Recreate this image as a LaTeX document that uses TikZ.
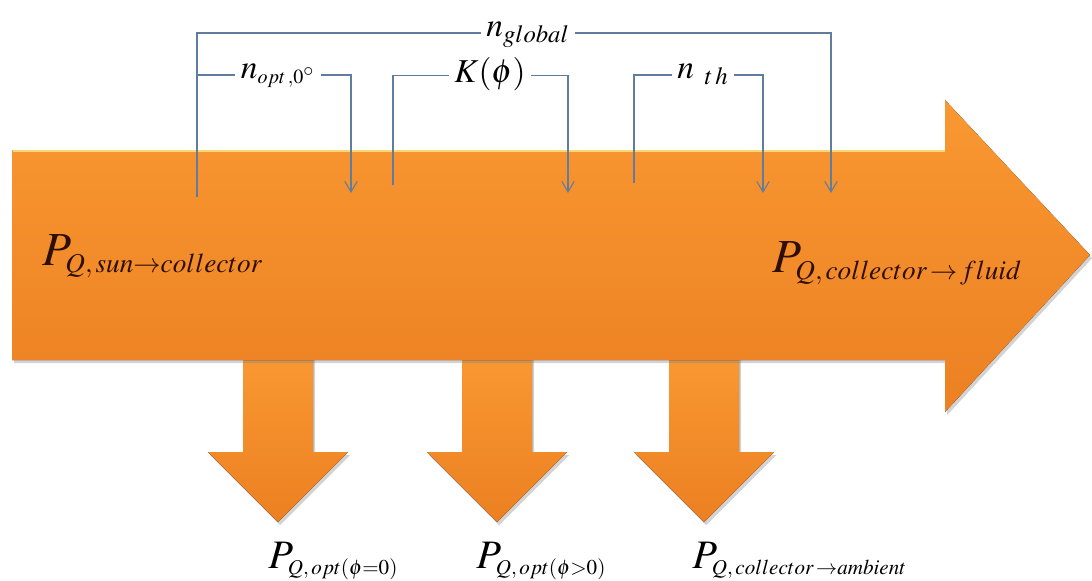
\documentclass[tikz,border=0pt]{standalone}
\usepackage{mathptmx}
\usetikzlibrary{arrows.meta,positioning,shadows}

\definecolor{flowfill}{RGB}{249,152,50}
\definecolor{flowdark}{RGB}{236,128,34}
\definecolor{flowedge}{RGB}{253,214,120}
\definecolor{linkblue}{RGB}{96,124,158}
\definecolor{inktext}{RGB}{45,15,5}

\newcommand{\subsz}[2]{\mbox{\fontsize{#1}{#1}\selectfont$#2$}}

\tikzset{
  flow/.style={top color=flowfill, bottom color=flowdark, draw=none,
    drop shadow={shadow xshift=1.2pt, shadow yshift=-1.8pt, opacity=0.35}},
  link/.style={draw=linkblue, line width=0.6pt},
  linkarr/.style={link, -{Straight Barb[length=6pt,width=7pt]}},
  eff/.style={anchor=mid, inner sep=3pt, font=\fontsize{19}{22}\selectfont},
  power/.style={anchor=base west, inner sep=0pt, text=inktext, font=\fontsize{27}{30}\selectfont},
  loss/.style={anchor=base west, inner sep=0pt, font=\fontsize{23}{26}\selectfont}
}

\begin{document}
\begin{tikzpicture}[x=0.02cm,y=-0.02cm]
\useasboundingbox (0,0) rectangle (1092,581);

\foreach \x in {278,497,704}
  \fill[flow] (\x-35,355) -- (\x+35,355) -- (\x+35,452) -- (\x+70,452)
    -- (\x,522) -- (\x-70,452) -- (\x-35,452) -- cycle;

\fill[flow] (12,150) -- (945,150) -- (945,100) -- (1090,255)
  -- (945,412) -- (945,360) -- (12,360) -- cycle;
\draw[flowedge, line width=1.6pt] (13,151) -- (945,151);

\node[power] (psun) at (42,265) {$P_{\subsz{15.5}{Q,sun{\rightarrow}collector}}$};
\node[power] (pfluid) at (772,272) {$P_{\subsz{15.5}{Q,collector\,{\rightarrow}\,fluid}}$};

\node[loss] (popt0) at (268,568) {$P_{\subsz{12}{Q,opt(\phi{=}0)}}$};
\node[loss] (popt1) at (476,568) {$P_{\subsz{12}{Q,opt(\phi{>}0)}}$};
\node[loss] (pamb) at (692,568) {$P_{\subsz{12}{Q,collector\,{\rightarrow}ambient}}$};

\coordinate (gL) at (197,197);
\coordinate (gR) at (831,193);
\coordinate (oL) at (197,75);
\coordinate (oR) at (351,193);
\coordinate (kL) at (393,185);
\coordinate (kR) at (568,193);
\coordinate (tL) at (634,183);
\coordinate (tR) at (763,193);

\node[eff] (nglob) at (528,33) {$n_{global}$};
\node[eff] (nopt) at (278,75) {$n_{\scriptscriptstyle opt\,,0^\circ}$};
\node[eff] (kphi) at (490,79) {$K(\phi)$};
\node[eff] (nth) at (703,75) {$n_{\hspace{6pt}t\,h}$};

\draw[link] (gL) |- (nglob.mid west);
\draw[linkarr] (nglob.mid east) -| (gR);
\draw[link] (oL) -- (nopt.mid west);
\draw[linkarr] (nopt.mid east) -| (oR);
\draw[link] (kL) |- ([yshift=2pt]kphi.mid west);
\draw[linkarr] ([yshift=2pt]kphi.mid east) -| (kR);
\draw[link] (tL) |- (nth.mid west);
\draw[linkarr] (nth.mid east) -| (tR);
\end{tikzpicture}
\end{document}
